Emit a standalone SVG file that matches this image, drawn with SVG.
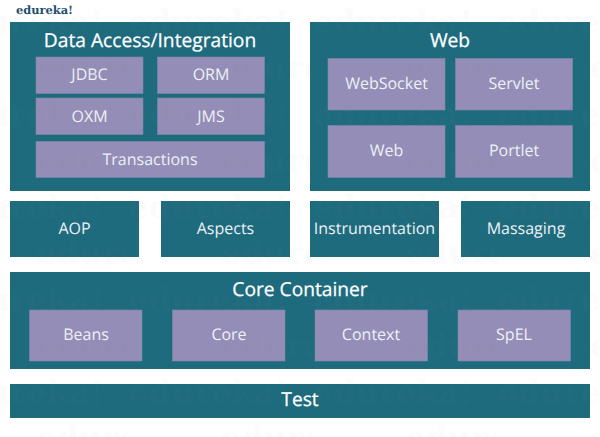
<svg xmlns="http://www.w3.org/2000/svg" width="600" height="437" viewBox="0 0 600 437">
<style>
.o{fill:#1e6b7e}
.p{fill:#948db7;stroke:#7f86aa;stroke-width:.6}
text{font-family:"Open Sans","Noto Sans",sans-serif;text-anchor:middle;text-rendering:geometricPrecision}
.h{font-size:19.2px;font-weight:500;fill:#fff;stroke:#fff;stroke-width:.25}
.m{font-size:16px;fill:#eef1f5}
.w{font-family:"DejaVu Serif",serif;font-weight:700;font-size:32px;fill:#7d7d7d;text-anchor:start}
</style>
<defs>
<pattern id="wm" patternUnits="userSpaceOnUse" x="-56" y="0" width="184.5" height="92.6">
<text class="w" x="0" y="33">edureka!</text>
<text class="w" x="92.25" y="79">edureka!</text>
</pattern>
</defs>
<rect width="600" height="437" fill="#fff"/>
<text id="logo" x="16" y="14" style="font-family:'DejaVu Serif',serif;font-weight:700;font-size:11.4px;fill:#1d4f6e;text-anchor:start">edureka!</text>
<g id="connectors"></g>
<g id="data-access"><rect class="o" x="10" y="22" width="280" height="169"/><text class="h" x="150" y="47">Data Access/Integration</text></g>
<g id="jdbc"><rect class="p" x="36" y="57" width="107" height="36.5"/><text class="m" x="89.5" y="80">JDBC</text></g>
<g id="orm"><rect class="p" x="157.5" y="57" width="107" height="36.5"/><text class="m" x="211" y="80">ORM</text></g>
<g id="oxm"><rect class="p" x="36" y="98" width="107" height="36.5"/><text class="m" x="89.5" y="121.5">OXM</text></g>
<g id="jms"><rect class="p" x="157.5" y="98" width="107" height="36.5"/><text class="m" x="211" y="121.5">JMS</text></g>
<g id="transactions"><rect class="p" x="36" y="141.5" width="228.5" height="36"/><text class="m" x="150" y="164.5">Transactions</text></g>
<g id="web-group"><rect class="o" x="310" y="22" width="280" height="169"/><text class="h" x="450" y="47">Web</text></g>
<g id="websocket"><rect class="p" x="328" y="58.5" width="117" height="51.5"/><text class="m" x="386.5" y="89">WebSocket</text></g>
<g id="servlet"><rect class="p" x="455.5" y="58.5" width="117" height="51.5"/><text class="m" x="514" y="89">Servlet</text></g>
<g id="web"><rect class="p" x="328" y="125.5" width="117" height="52"/><text class="m" x="386.5" y="156">Web</text></g>
<g id="portlet"><rect class="p" x="455.5" y="125.5" width="117" height="52"/><text class="m" x="514" y="156">Portlet</text></g>
<g id="aop"><rect class="o" x="10" y="201" width="129" height="56"/><text class="m" x="74.5" y="234">AOP</text></g>
<g id="aspects"><rect class="o" x="161" y="201" width="129" height="56"/><text class="m" x="225.5" y="234">Aspects</text></g>
<g id="instrumentation"><rect class="o" x="310" y="201" width="129" height="56"/><text class="m" x="374.5" y="234">Instrumentation</text></g>
<g id="massaging"><rect class="o" x="461" y="201" width="129" height="56"/><text class="m" x="526" y="234">Massaging</text></g>
<g id="core-container"><rect class="o" x="10" y="272" width="580" height="97"/><text class="h" x="300" y="295.5">Core Container</text></g>
<g id="beans"><rect class="p" x="29.5" y="310" width="112.5" height="51"/><text class="m" x="86" y="340">Beans</text></g>
<g id="core"><rect class="p" x="172.5" y="310" width="112.5" height="51"/><text class="m" x="229" y="340">Core</text></g>
<g id="context"><rect class="p" x="315" y="310" width="112.5" height="51"/><text class="m" x="371" y="340">Context</text></g>
<g id="spel"><rect class="p" x="458" y="310" width="112.5" height="51"/><text class="m" x="514" y="340">SpEL</text></g>
<g id="test"><rect class="o" x="10" y="384" width="580" height="34"/><text class="h" x="300" y="405.5">Test</text></g>
<rect width="600" height="437" fill="url(#wm)" opacity=".03"/>
</svg>
